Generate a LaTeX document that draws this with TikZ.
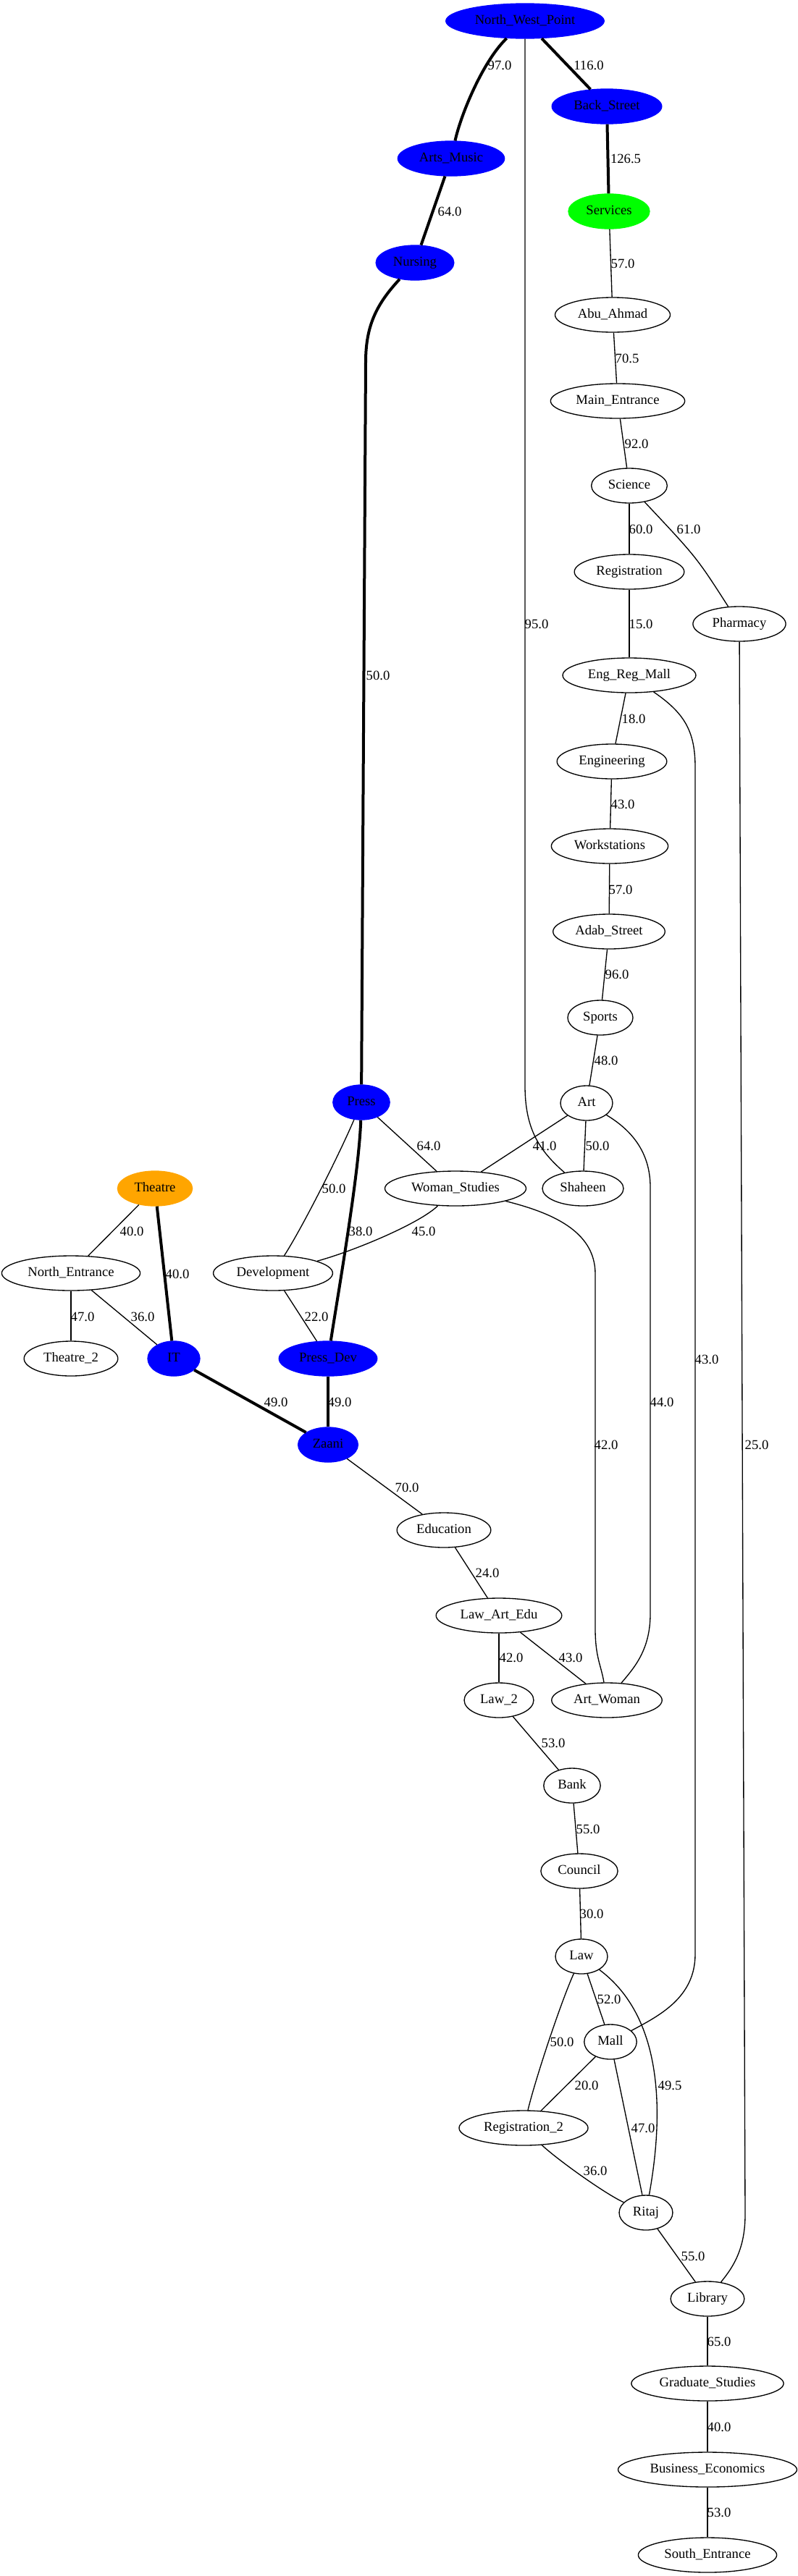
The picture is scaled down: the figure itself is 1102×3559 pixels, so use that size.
\documentclass[tikz,border=0pt]{standalone}
\usepackage{fontspec}
\setmainfont{Liberation Serif}
\usepackage{tikz}
\usetikzlibrary{shapes.geometric}

\definecolor{stageorange}{RGB}{255,165,0}

\tikzset{
  spot/.style={ellipse, draw=black, line width=1pt, inner xsep=6pt, inner ysep=3pt,
    minimum width=54pt, minimum height=36pt, text height=9.5pt, text depth=2.5pt,
    font=\fontsize{14}{16}\selectfont},
  hub/.style={spot, draw=blue, fill=blue},
  servicespot/.style={spot, draw=green, fill=green},
  stagespot/.style={spot, draw=stageorange, fill=stageorange},
  wt/.style={inner sep=0pt, font=\fontsize{14}{16}\selectfont},
  road/.style={line width=1pt},
  heavy/.style={line width=3pt}
}

\begin{document}
\begin{tikzpicture}[x=0.75pt, y=-0.75pt]
\useasboundingbox (0,0) rectangle (1102,3559);

% places
\node[hub] (nwp) at (725,29) {North\_West\_Point};
\node[hub] (bst) at (838,147) {Back\_Street};
\node[hub] (arts) at (623,219) {Arts\_Music};
\node[servicespot] (serv) at (841,292) {Services};
\node[hub] (nurs) at (573,363) {Nursing};
\node[spot] (abu) at (846,435) {Abu\_Ahmad};
\node[spot] (mainent) at (853,554) {Main\_Entrance};
\node[spot] (sci) at (869,671) {Science};
\node[spot] (reg) at (869,790) {Registration};
\node[spot] (phar) at (1021,862) {Pharmacy};
\node[spot] (erm) at (869,933) {Eng\_Reg\_Mall};
\node[spot] (eng) at (845,1052) {Engineering};
\node[spot] (work) at (842,1169) {Workstations};
\node[spot] (adab) at (841,1287) {Adab\_Street};
\node[spot] (sports) at (829,1406) {Sports};
\node[spot] (art) at (810,1524) {Art};
\node[hub] (press) at (499,1523) {Press};
\node[stagespot] (theatre) at (214,1642) {Theatre};
\node[spot] (ws) at (629,1642) {Woman\_Studies};
\node[spot] (shah) at (805,1642) {Shaheen};
\node[spot] (north) at (98,1759) {North\_Entrance};
\node[spot] (dev) at (377,1759) {Development};
\node[spot] (theatretwo) at (98,1877) {Theatre\_2};
\node[hub] (it) at (240,1877) {IT};
\node[hub] (pdev) at (453,1877) {Press\_Dev};
\node[hub] (zaani) at (453,1996) {Zaani};
\node[spot] (edu) at (613,2114) {Education};
\node[spot] (lae) at (689,2232) {Law\_Art\_Edu};
\node[spot] (lawtwo) at (689,2349) {Law\_2};
\node[spot] (artw) at (838,2349) {Art\_Woman};
\node[spot] (bank) at (790,2467) {Bank};
\node[spot] (council) at (800,2585) {Council};
\node[spot] (law) at (803,2703) {Law};
\node[spot] (mall) at (843,2821) {Mall};
\node[spot] (regtwo) at (723,2940) {Registration\_2};
\node[spot] (ritaj) at (892,3057) {Ritaj};
\node[spot] (lib) at (977,3176) {Library};
\node[spot] (grad) at (977,3293) {Graduate\_Studies};
\node[spot] (bus) at (977,3412) {Business\_Economics};
\node[spot] (south) at (977,3530) {South\_Entrance};

% heavy roads
\draw[heavy] (nwp) .. controls (668,83) and (637,156) .. (arts);
\draw[heavy] (nwp) -- (bst);
\draw[heavy] (bst) -- (serv);
\draw[heavy] (arts) -- (nurs);
\draw[heavy] (nurs) .. controls (520,420) and (505,450) .. (505,500) -- (press);
\draw[heavy] (press) .. controls (496,1620) and (468,1780) .. (pdev);
\draw[heavy] (theatre) -- (it);
\draw[heavy] (it) -- (zaani);
\draw[heavy] (pdev) -- (zaani);

% roads
\draw[road] (nwp) -- (725,1500) .. controls (725,1560) and (745,1590) .. (shah);
\draw[road] (serv) -- (abu);
\draw[road] (abu) -- (mainent);
\draw[road] (mainent) -- (sci);
\draw[road] (sci) -- (reg);
\draw[road] (sci) .. controls (962,770) .. (phar);
\draw[road] (reg) -- (erm);
\draw[road] (phar) -- (1029,3060) .. controls (1029,3110) and (1010,3135) .. (lib);
\draw[road] (erm) -- (eng);
\draw[road] (erm) .. controls (945,985) and (960,1010) .. (960,1060) -- (960,2700)
  .. controls (960,2760) and (910,2785) .. (mall);
\draw[road] (eng) -- (work);
\draw[road] (work) -- (adab);
\draw[road] (adab) -- (sports);
\draw[road] (sports) -- (art);
\draw[road] (art) -- (ws);
\draw[road] (art) -- (shah);
\draw[road] (art) .. controls (870,1560) and (898,1590) .. (898,1640) -- (898,2230)
  .. controls (898,2280) and (875,2305) .. (artw);
\draw[road] (press) -- (ws);
\draw[road] (press) .. controls (469,1594) and (418,1695) .. (dev);
\draw[road] (theatre) -- (north);
\draw[road] (ws) .. controls (580,1690) and (490,1728) .. (dev);
\draw[road] (ws) .. controls (760,1675) and (822,1700) .. (822,1760) -- (822,2250)
  .. controls (822,2290) and (830,2300) .. (artw);
\draw[road] (north) -- (theatretwo);
\draw[road] (north) -- (it);
\draw[road] (dev) -- (pdev);
\draw[road] (zaani) -- (edu);
\draw[road] (edu) -- (lae);
\draw[road] (lae) -- (lawtwo);
\draw[road] (lae) -- (artw);
\draw[road] (lawtwo) -- (bank);
\draw[road] (bank) -- (council);
\draw[road] (council) -- (law);
\draw[road] (law) -- (mall);
\draw[road] (law) .. controls (775,2765) and (740,2870) .. (regtwo);
\draw[road] (law) .. controls (920,2790) and (915,2930) .. (ritaj);
\draw[road] (mall) -- (regtwo);
\draw[road] (mall) -- (ritaj);
\draw[road] (regtwo) .. controls (769,2983) and (834,3030) .. (ritaj);
\draw[road] (ritaj) -- (lib);
\draw[road] (lib) -- (grad);
\draw[road] (grad) -- (bus);
\draw[road] (bus) -- (south);

% distances
\node[wt] (d1) at (690,90) {97.0};
\node[wt] (d2) at (813,90) {116.0};
\node[wt] (d3) at (864,219) {126.5};
\node[wt] (d4) at (621,292) {64.0};
\node[wt] (d5) at (860,364) {57.0};
\node[wt] (d6) at (866,495) {70.5};
\node[wt] (d7) at (879,613) {92.0};
\node[wt] (d8) at (885,731) {60.0};
\node[wt] (d9) at (951,731) {61.0};
\node[wt] (d10) at (741,862) {95.0};
\node[wt] (d11) at (885,862) {15.0};
\node[wt] (d12) at (522,933) {50.0};
\node[wt] (d13) at (875,993) {18.0};
\node[wt] (d14) at (860,1111) {43.0};
\node[wt] (d15) at (857,1229) {57.0};
\node[wt] (d16) at (852,1346) {96.0};
\node[wt] (d17) at (837,1465) {48.0};
\node[wt] (d18) at (592,1583) {64.0};
\node[wt] (d19) at (752,1583) {41.0};
\node[wt] (d20) at (825,1583) {50.0};
\node[wt] (d21) at (461,1642) {50.0};
\node[wt] (d22) at (182,1701) {40.0};
\node[wt] (d23) at (498,1701) {38.0};
\node[wt] (d24) at (585,1701) {45.0};
\node[wt] (d25) at (245,1760) {40.0};
\node[wt] (d26) at (114,1819) {47.0};
\node[wt] (d27) at (197,1819) {36.0};
\node[wt] (d28) at (437,1819) {22.0};
\node[wt] (d29) at (976,1878) {43.0};
\node[wt] (d30) at (381,1937) {49.0};
\node[wt] (d31) at (469,1937) {49.0};
\node[wt] (d32) at (914,1937) {44.0};
\node[wt] (d33) at (837,1996) {42.0};
\node[wt] (d34) at (1045,1996) {25.0};
\node[wt] (d35) at (562,2055) {70.0};
\node[wt] (d36) at (673,2173) {24.0};
\node[wt] (d37) at (706,2290) {42.0};
\node[wt] (d38) at (788,2290) {43.0};
\node[wt] (d39) at (764,2408) {53.0};
\node[wt] (d40) at (812,2527) {55.0};
\node[wt] (d41) at (817,2644) {30.0};
\node[wt] (d42) at (841,2762) {52.0};
\node[wt] (d43) at (776,2821) {50.0};
\node[wt] (d44) at (810,2881) {20.0};
\node[wt] (d45) at (925,2881) {49.5};
\node[wt] (d46) at (888,2940) {47.0};
\node[wt] (d47) at (822,2999) {36.0};
\node[wt] (d48) at (957,3117) {55.0};
\node[wt] (d49) at (993,3235) {65.0};
\node[wt] (d50) at (993,3353) {40.0};
\node[wt] (d51) at (993,3471) {53.0};
\end{tikzpicture}
\end{document}
